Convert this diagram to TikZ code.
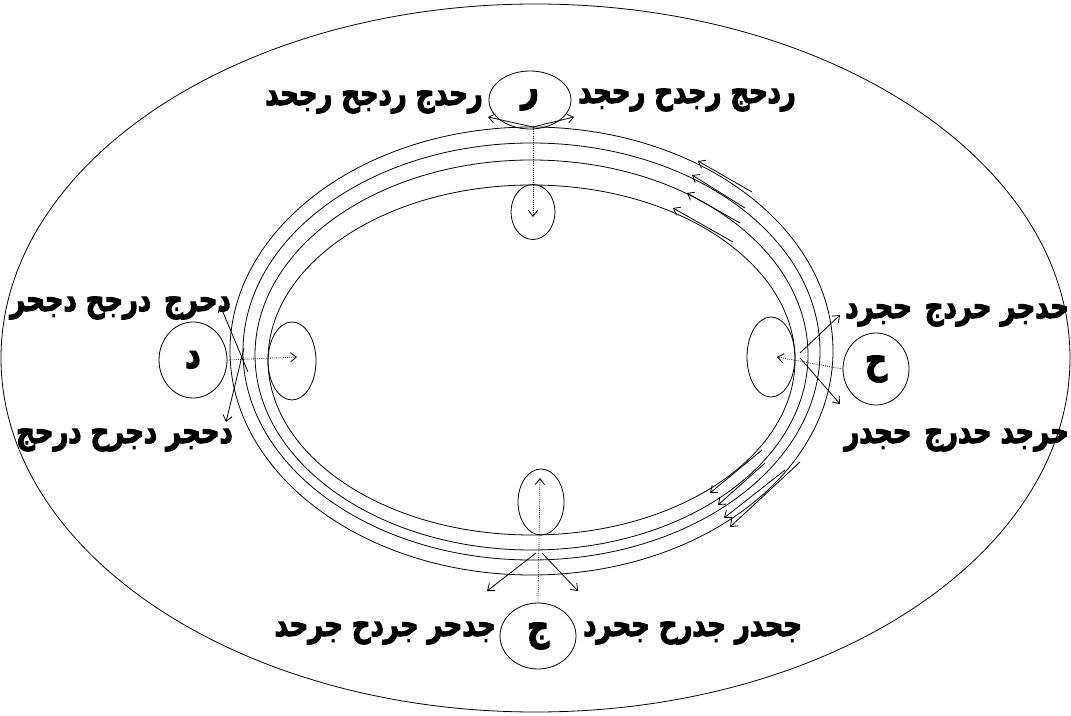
\documentclass[tikz,border=0pt]{standalone}
\usepackage{fontspec}
\newfontfamily\arabicfont[Script=Arabic, FakeBold=3, FakeStretch=0.76]{DejaVu Sans}
\TeXXeTstate=1
\usetikzlibrary{shapes.geometric,arrows.meta}
\newcommand\gapsp{\ \hspace{3pt}}
\begin{document}
\begin{tikzpicture}[x=0.75pt,y=-0.75pt,
  ell/.style={draw, ellipse, inner sep=0pt, line width=0.6pt},
  lab/.style={font=\arabicfont\bfseries\fontsize{25.5}{28}\selectfont, inner sep=0pt},
  big/.style={font=\arabicfont\bfseries\fontsize{30}{32}\selectfont},
  arr/.style={-{Straight Barb[length=4.5pt,width=7pt]}, line width=0.6pt},
  dotarr/.style={arr, densely dotted}]
\useasboundingbox (0,0) rectangle (1071,716);
% outer and rings
\node[ell, minimum width=801.75pt, minimum height=531pt] (outer) at (535.5,358) {};
\node[ell, minimum width=452.25pt, minimum height=336pt] (ring1) at (531.5,351) {};
\node[ell, minimum width=432.75pt, minimum height=312.75pt] (ring2) at (531.5,351.5) {};
\node[ell, minimum width=414.75pt, minimum height=292.5pt] (ring3) at (531.5,355) {};
\node[ell, minimum width=395.25pt, minimum height=262.5pt] (ring4) at (531.5,360) {};
% small ellipses
\node[ell, big, minimum width=61.5pt, minimum height=43.5pt] (R) at (530,100) {\beginR ر\endR};
\node[ell, minimum width=33pt, minimum height=41.25pt] (Rin) at (533,212) {};
\node[ell, big, minimum width=51pt, minimum height=57pt] (D) at (193,360) {\beginR د\endR};
\node[ell, minimum width=36pt, minimum height=58.5pt] (Din) at (292,361) {};
\node[ell, big, minimum width=49.5pt, minimum height=54pt] (H) at (876,369) {\beginR ح\endR};
\node[ell, minimum width=36pt, minimum height=60pt] (Hin) at (771,357) {};
\node[ell, big, minimum width=57pt, minimum height=49.5pt] (J) at (538,636) {\beginR ج\endR};
\node[ell, minimum width=34.5pt, minimum height=49.5pt] (Jin) at (541,502) {};
% labels
\node[lab, anchor=east] (tl) at (483,102) {\beginR رحدج ردجح رجحد\endR};
\node[lab, anchor=west] (tr) at (578,100) {\beginR ردحج رجدح رحجد\endR};
\node[lab, anchor=east] (lt) at (231,308) {\beginR دحرج\gapsp درجح دجحر\endR};
\node[lab, anchor=east] (lb) at (233,440) {\beginR دحجر دجرح درحج\endR};
\node[lab, anchor=east] (rt) at (1069,315) {\beginR حدجر حردج\gapsp حجرد\endR};
\node[lab, anchor=east] (rb) at (1069,440) {\beginR حرجد حدرج\gapsp حجدر\endR};
\node[lab, anchor=east] (bl) at (496,633) {\beginR جدحر جردح جرحد\endR};
\node[lab, anchor=west] (br) at (583,633) {\beginR جحدر جدرح جحرد\endR};
% top arrows
\coordinate (tO) at (533,127);
\coordinate (tL) at (488,117);
\coordinate (tR) at (574,117);
\coordinate (tD) at (533,217);
\draw[arr] (tO) -- (tL);
\draw[arr] (tO) -- (tR);
\draw[dotarr] (tO) -- (tD);
% left arrows
\coordinate (l1s) at (248,372);
\coordinate (l1e) at (220,305);
\coordinate (l2s) at (244,348);
\coordinate (l2e) at (226,422);
\coordinate (lD) at (297,357);
\draw[arr] (l1s) -- (l1e);
\draw[arr] (l2s) -- (l2e);
\draw[dotarr] (D.east) -- (lD);
% right arrows
\coordinate (r1s) at (800,353);
\coordinate (r1e) at (840,315);
\coordinate (r2s) at (800,358);
\coordinate (r2e) at (840,404);
\coordinate (rD) at (777,357);
\draw[arr] (r1s) -- (r1e);
\draw[arr] (r2s) -- (r2e);
\draw[dotarr] (H.west) -- (rD);
% bottom arrows
\coordinate (b1s) at (536,553);
\coordinate (b1e) at (487,591);
\coordinate (b2s) at (542,553);
\coordinate (b2e) at (578,591);
\coordinate (bD) at (540,478);
\draw[arr] (b1s) -- (b1e);
\draw[arr] (b2s) -- (b2e);
\draw[dotarr] (J.north) -- (bD);
% ring arrows upper right
\coordinate (u1s) at (752,192); \coordinate (u1e) at (698,161);
\coordinate (u2s) at (745,208); \coordinate (u2e) at (692,175);
\coordinate (u3s) at (740,223); \coordinate (u3e) at (687,193);
\coordinate (u4s) at (733,242); \coordinate (u4e) at (673,208);
\draw[arr] (u1s) -- (u1e);
\draw[arr] (u2s) -- (u2e);
\draw[arr] (u3s) -- (u3e);
\draw[arr] (u4s) -- (u4e);
% ring arrows lower right
\coordinate (d1s) at (762,450); \coordinate (d1e) at (710,493);
\coordinate (d2s) at (765,463); \coordinate (d2e) at (718,505);
\coordinate (d3s) at (785,470); \coordinate (d3e) at (724,518);
\coordinate (d4s) at (800,462); \coordinate (d4e) at (730,527);
\draw[arr] (d1s) -- (d1e);
\draw[arr] (d2s) -- (d2e);
\draw[arr] (d3s) -- (d3e);
\draw[arr] (d4s) -- (d4e);
\end{tikzpicture}
\end{document}
